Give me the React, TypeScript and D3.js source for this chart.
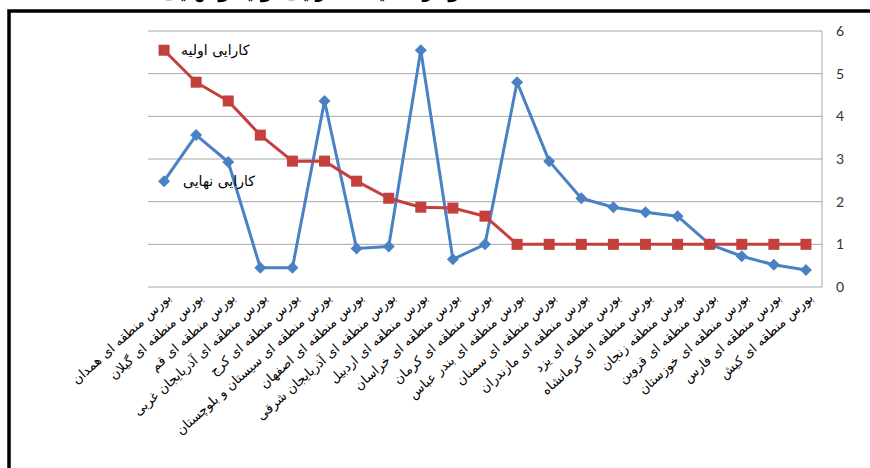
import React, {useEffect, useRef} from "react";
import * as d3 from "d3";

const categories = [
    "بورس منطقه ای همدان",
    "بورس منطقه ای گیلان",
    "بورس منطقه ای قم",
    "بورس منطقه ای آذربایجان غربی",
    "بورس منطقه ای کرج",
    "بورس منطقه ای سیستان و بلوچستان",
    "بورس منطقه ای اصفهان",
    "بورس منطقه ای آذربایجان شرقی",
    "بورس منطقه ای اردبیل",
    "بورس منطقه ای خراسان",
    "بورس منطقه ای کرمان",
    "بورس منطقه ای بندر عباس",
    "بورس منطقه ای سمنان",
    "بورس منطقه ای مازندران",
    "بورس منطقه ای یزد",
    "بورس منطقه ای کرمانشاه",
    "بورس منطقه زنجان",
    "بورس منطقه ای قزوین",
    "بورس منطقه ای خوزستان",
    "بورس منطقه ای فارس",
    "بورس منطقه ای کیش",
];

const initialEff = [5.55, 4.8, 4.36, 3.56, 2.95, 2.95, 2.48, 2.08, 1.87, 1.85, 1.66, 1, 1, 1, 1, 1, 1, 1, 1, 1, 1];
const finalEff = [2.48, 3.56, 2.93, 0.45, 0.45, 4.36, 0.9, 0.95, 5.55, 0.65, 1.0, 4.8, 2.95, 2.08, 1.87, 1.75, 1.66, 1.0, 0.72, 0.52, 0.4];

const initialName = "کارایی اولیه";
const finalName = "کارایی نهایی";
const yTicks = [0, 1, 2, 3, 4, 5, 6];

const RED = "#c4403d";
const BLUE = "#4a80c4";

const App: React.FC = () => {
    const svgRef = useRef<SVGSVGElement | null>(null);

    useEffect(() => {
        if (!svgRef.current) return;
        const svg = d3.select(svgRef.current);
        svg.selectAll("*").remove();

        const width = 870;
        const height = 468;
        const plot = {left: 148, right: 822, top: 31, bottom: 287};

        svg.append("rect").attr("width", width).attr("height", height).attr("fill", "#fff");

        // title, mostly above the top edge of the picture
        svg.append("text")
            .attr("x", 320)
            .attr("y", -2)
            .attr("text-anchor", "middle")
            .attr("font-family", "DejaVu Sans")
            .attr("font-size", 18)
            .attr("font-weight", "bold")
            .attr("fill", "#000")
            .text("نمودار مقایسه کارایی اولیه و نهایی");

        // frame
        svg.append("path")
            .attr("d", `M9,${height + 5} V11 H${width + 5}`)
            .attr("fill", "none")
            .attr("stroke", "#000")
            .attr("stroke-width", 3.5);

        const x = d3.scaleBand()
            .domain(categories)
            .range([plot.left, plot.right]);

        const y = d3.scaleLinear()
            .domain([0, 6])
            .range([plot.bottom, plot.top]);

        const cx = (c: string) => (x(c) || 0) + x.bandwidth() / 2;

        // gridlines
        svg.append("g")
            .selectAll("line")
            .data(yTicks)
            .join("line")
            .attr("x1", plot.left)
            .attr("x2", plot.right)
            .attr("y1", (d) => y(d))
            .attr("y2", (d) => y(d))
            .attr("stroke", "#a6a6a6")
            .attr("stroke-width", 1);

        svg.append("line")
            .attr("x1", plot.right)
            .attr("x2", plot.right)
            .attr("y1", plot.top)
            .attr("y2", plot.bottom)
            .attr("stroke", "#a6a6a6");

        // right axis labels
        const yAxis = svg.append("g")
            .attr("transform", `translate(${plot.right},0)`)
            .call(d3.axisRight(y).tickValues(yTicks).tickSize(0).tickPadding(14).tickFormat(d3.format("d")));
        yAxis.select(".domain").remove();
        yAxis.selectAll("text")
            .attr("font-family", "Lato, 'Open Sans', sans-serif")
            .attr("font-size", 14)
            .attr("fill", "#333");

        // category labels
        svg.append("g")
            .selectAll("text")
            .data(categories)
            .join("text")
            .attr("transform", (d) => `translate(${cx(d) + 8},${plot.bottom + 12}) rotate(-42)`)
            .attr("text-anchor", "end")
            .attr("font-family", "DejaVu Sans")
            .attr("font-size", 13)
            .attr("fill", "#000")
            .text((d) => d);

        const line = d3.line<number>()
            .x((_, i) => cx(categories[i]))
            .y((d) => y(d));

        // final efficiency (blue)
        svg.append("path")
            .datum(finalEff)
            .attr("d", line)
            .attr("fill", "none")
            .attr("stroke", BLUE)
            .attr("stroke-width", 3)
            .attr("stroke-linejoin", "round");

        svg.append("g")
            .selectAll("path")
            .data(finalEff)
            .join("path")
            .attr("d", "M0,-6 L6,0 L0,6 L-6,0 Z")
            .attr("transform", (d, i) => `translate(${cx(categories[i])},${y(d)})`)
            .attr("fill", BLUE);

        // initial efficiency (red)
        svg.append("path")
            .datum(initialEff)
            .attr("d", line)
            .attr("fill", "none")
            .attr("stroke", RED)
            .attr("stroke-width", 3)
            .attr("stroke-linejoin", "round");

        svg.append("g")
            .selectAll("rect")
            .data(initialEff)
            .join("rect")
            .attr("x", (_, i) => cx(categories[i]) - 5.5)
            .attr("y", (d) => y(d) - 5.5)
            .attr("width", 11)
            .attr("height", 11)
            .attr("fill", RED);

        // series name labels next to the first points
        const first = categories[0];
        svg.append("text")
            .attr("x", cx(first) + 17)
            .attr("y", y(initialEff[0]) + 5)
            .attr("font-family", "DejaVu Sans")
            .attr("font-size", 14)
            .attr("letter-spacing", 0.5)
            .attr("fill", "#000")
            .text(initialName);

        svg.append("text")
            .attr("x", cx(first) + 19)
            .attr("y", y(finalEff[0]) + 5)
            .attr("font-family", "DejaVu Sans")
            .attr("font-size", 14)
            .attr("letter-spacing", 0.5)
            .attr("fill", "#000")
            .text(finalName);
    }, []);

    return (
        <svg
            ref={svgRef}
            width={870}
            height={468}
            style={{position: "absolute", left: 0, top: 0}}
        ></svg>
    );
};

export default App;
